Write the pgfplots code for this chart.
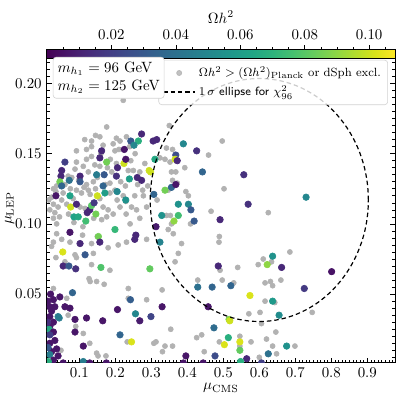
\documentclass[border=0pt]{standalone}
\usepackage{pgfplots}
\pgfplotsset{compat=1.18}

\begin{document}
\begin{tikzpicture}
\begin{axis}[
  name=ax,
  scale only axis, width=233.6pt, height=207.4pt,
  xmin=0.01, xmax=0.977, ymin=0.001, ymax=0.221,
  xlabel={$\mu_{\mathrm{CMS}}$}, ylabel={$\mu_{\mathrm{LEP}}$},
  xlabel style={yshift=3pt},
  ylabel style={at={([xshift=-25pt]rel axis cs:0,0.5)}, anchor=center},
  xtick={0.1,0.2,0.3,0.4,0.5,0.6,0.7,0.8,0.9},
  ytick={0.05,0.10,0.15,0.20},
  minor xtick={0.02,0.03,...,0.97},
  minor ytick={0.005,0.010,...,0.220},
  yticklabel style={/pgf/number format/.cd, fixed, precision=2, fixed zerofill},
  xticklabel style={/pgf/number format/.cd, fixed, precision=1},
  tick align=inside, xtick pos=both, ytick pos=both,
  xticklabel pos=left, yticklabel pos=left,
  major tick length=3.5pt, minor tick length=1.8pt,
  every tick/.style={black, line width=0.4pt},
  axis line style={line width=0.6pt},
  clip marker paths=true,
  colormap name=viridis,
  point meta min=0, point meta max=0.108,
  colorbar horizontal,
  colorbar style={
    at={(parent axis.north west)}, anchor=south west, yshift=5.4pt,
    scale only axis, width=233.6pt, height=6pt,
    xtick={0.02,0.04,0.06,0.08,0.10},
    minor xtick={0.005,0.010,0.015,0.025,0.030,0.035,0.045,0.050,0.055,0.065,0.070,0.075,0.085,0.090,0.095,0.105},
    xtick pos=right, xticklabel pos=right, tick align=outside,
    major tick length=3pt, minor tick length=1.6pt,
    xticklabel style={/pgf/number format/.cd, fixed, precision=2, fixed zerofill},
    xlabel={$\Omega h^2$}, xlabel style={yshift=-2pt},
    axis line style={line width=0.6pt},
  },
  legend cell align=left,
  legend style={at={(1,1)}, anchor=north east, xshift=-4.7pt, yshift=-4pt,
    draw=gray!35, rounded corners=2pt, fill=white, fill opacity=0.8, text opacity=1,
    font=\footnotesize, row sep=0.5pt, inner ysep=2.5pt, inner xsep=2.5pt},
]

% excluded points
\addplot[only marks, mark=*, mark size=1.7pt, draw=gray!60, fill=gray!60,
  legend image code/.code={\fill[gray!60] (0.38cm,0cm) circle (1.7pt);}] table {
x y
0.466 0.109
0.625 0.108
0.342 0.106
0.353 0.106
0.356 0.100
0.409 0.100
0.347 0.096
0.361 0.093
0.384 0.086
0.489 0.091
0.488 0.087
0.375 0.079
0.366 0.073
0.611 0.075
0.685 0.080
0.597 0.071
0.634 0.073
0.540 0.069
0.491 0.067
0.429 0.060
0.497 0.060
0.529 0.058
0.616 0.058
0.631 0.059
0.637 0.056
0.660 0.060
0.330 0.053
0.616 0.045
0.643 0.044
0.602 0.037
0.571 0.036
0.747 0.037
0.606 0.029
0.354 0.025
0.440 0.021
0.426 0.019
0.546 0.020
0.577 0.016
0.620 0.018
0.646 0.023
0.546 0.013
0.489 0.016
0.313 0.016
0.307 0.015
0.338 0.013
0.359 0.013
0.331 0.009
0.447 0.009
0.699 0.013
0.637 0.013
0.648 0.0075
0.600 0.005
0.350 0.170
0.497 0.159
0.342 0.154
0.359 0.153
0.459 0.149
0.324 0.147
0.338 0.146
0.352 0.144
0.393 0.140
0.356 0.137
0.368 0.137
0.359 0.131
0.372 0.129
0.502 0.125
0.396 0.123
0.403 0.120
0.316 0.117
0.347 0.124
0.222 0.188
0.176 0.169
0.145 0.163
0.157 0.162
0.134 0.159
0.203 0.161
0.194 0.157
0.213 0.159
0.231 0.162
0.166 0.156
0.134 0.155
0.199 0.152
0.210 0.153
0.120 0.153
0.092 0.152
0.069 0.134
0.092 0.144
0.111 0.141
0.120 0.146
0.134 0.148
0.203 0.143
0.143 0.142
0.157 0.141
0.125 0.137
0.088 0.139
0.079 0.133
0.190 0.137
0.250 0.138
0.268 0.137
0.185 0.129
0.120 0.128
0.139 0.130
0.037 0.127
0.028 0.125
0.035 0.123
0.055 0.122
0.023 0.119
0.051 0.117
0.092 0.124
0.106 0.122
0.125 0.124
0.157 0.118
0.185 0.122
0.199 0.124
0.222 0.120
0.229 0.116
0.254 0.120
0.276 0.124
0.278 0.120
0.028 0.114
0.041 0.112
0.065 0.114
0.102 0.112
0.116 0.111
0.166 0.112
0.180 0.110
0.194 0.107
0.213 0.112
0.245 0.112
0.259 0.110
0.032 0.108
0.028 0.104
0.037 0.100
0.176 0.105
0.162 0.103
0.268 0.104
0.241 0.100
0.015 0.117
0.018 0.110
0.060 0.128
0.075 0.125
0.083 0.118
0.098 0.131
0.113 0.126
0.130 0.121
0.145 0.125
0.150 0.133
0.172 0.128
0.178 0.140
0.186 0.146
0.215 0.130
0.228 0.127
0.236 0.138
0.243 0.145
0.255 0.150
0.262 0.128
0.282 0.143
0.290 0.127
0.205 0.117
0.140 0.104
0.085 0.101
0.070 0.107
0.110 0.098
0.230 0.107
0.287 0.112
0.045 0.105
0.160 0.150
0.115 0.160
0.240 0.155
0.037 0.093
0.109 0.092
0.134 0.086
0.150 0.091
0.028 0.087
0.023 0.084
0.051 0.089
0.074 0.087
0.231 0.087
0.287 0.089
0.180 0.083
0.208 0.085
0.088 0.078
0.139 0.079
0.035 0.076
0.060 0.073
0.092 0.076
0.134 0.071
0.185 0.067
0.127 0.061
0.130 0.059
0.148 0.059
0.169 0.057
0.028 0.054
0.236 0.054
0.065 0.047
0.236 0.047
0.287 0.046
0.069 0.035
0.090 0.027
0.111 0.022
0.233 0.016
0.129 0.015
0.148 0.008
0.152 0.006
0.174 0.006
0.049 0.010
};
\addlegendentry{$\Omega h^2 > (\Omega h^2)_{\mathrm{Planck}}$ or dSph excl.}

% allowed points, coloured by relic density
\addplot[scatter, only marks, mark=*, mark size=2.2pt, forget plot,
  scatter src=explicit,
  scatter/use mapped color={draw=mapped color, fill=mapped color}]
  table[meta=c] {
x y c
0.375 0.114 0.055
0.403 0.114 0.050
0.569 0.114 0.015
0.329 0.106 0.055
0.375 0.106 0.075
0.363 0.102 0.090
0.410 0.110 0.030
0.419 0.102 0.030
0.313 0.098 0.008
0.324 0.087 0.048
0.491 0.103 0.012
0.637 0.077 0.055
0.622 0.071 0.090
0.662 0.069 0.012
0.486 0.070 0.012
0.801 0.066 0.005
0.429 0.055 0.040
0.469 0.055 0.035
0.521 0.056 0.035
0.725 0.054 0.018
0.574 0.049 0.102
0.637 0.045 0.058
0.330 0.041 0.006
0.458 0.041 0.006
0.655 0.035 0.052
0.516 0.032 0.088
0.518 0.031 0.100
0.474 0.026 0.038
0.514 0.019 0.068
0.503 0.014 0.102
0.546 0.016 0.102
0.546 0.010 0.082
0.676 0.013 0.055
0.625 0.0075 0.040
0.477 0.006 0.025
0.396 0.006 0.006
0.565 0.004 0.012
0.606 0.001 0.020
0.548 0.002 0.068
0.389 0.001 0.006
0.444 0.001 0.006
0.299 0.034 0.022
0.305 0.159 0.012
0.315 0.160 0.012
0.389 0.157 0.050
0.426 0.152 0.015
0.368 0.149 0.025
0.310 0.146 0.065
0.366 0.146 0.100
0.372 0.145 0.012
0.442 0.137 0.035
0.557 0.135 0.015
0.298 0.137 0.100
0.307 0.121 0.035
0.356 0.126 0.035
0.338 0.124 0.085
0.368 0.128 0.006
0.730 0.119 0.050
0.273 0.164 0.012
0.243 0.159 0.030
0.264 0.159 0.068
0.252 0.156 0.050
0.162 0.152 0.012
0.225 0.153 0.006
0.060 0.144 0.020
0.051 0.138 0.012
0.049 0.134 0.012
0.046 0.130 0.085
0.176 0.144 0.085
0.206 0.140 0.012
0.224 0.143 0.100
0.229 0.146 0.006
0.072 0.131 0.040
0.102 0.134 0.012
0.148 0.135 0.045
0.169 0.135 0.030
0.203 0.134 0.015
0.239 0.132 0.060
0.261 0.133 0.012
0.273 0.131 0.012
0.294 0.138 0.100
0.166 0.127 0.035
0.035 0.120 0.006
0.051 0.127 0.035
0.074 0.120 0.062
0.150 0.120 0.100
0.171 0.122 0.060
0.205 0.123 0.050
0.229 0.117 0.055
0.076 0.112 0.100
0.092 0.114 0.012
0.085 0.105 0.062
0.097 0.105 0.065
0.122 0.108 0.012
0.129 0.110 0.012
0.134 0.113 0.080
0.141 0.115 0.018
0.146 0.107 0.085
0.118 0.102 0.075
0.157 0.147 0.012
0.102 0.130 0.030
0.199 0.096 0.072
0.074 0.094 0.006
0.102 0.086 0.012
0.153 0.091 0.085
0.157 0.087 0.012
0.257 0.092 0.012
0.254 0.089 0.012
0.054 0.080 0.102
0.116 0.078 0.030
0.055 0.070 0.012
0.071 0.070 0.030
0.090 0.068 0.015
0.160 0.069 0.078
0.296 0.068 0.082
0.081 0.051 0.035
0.242 0.046 0.032
0.206 0.039 0.006
0.256 0.036 0.050
0.088 0.032 0.006
0.120 0.033 0.006
0.165 0.031 0.006
0.268 0.031 0.008
0.088 0.023 0.006
0.213 0.021 0.035
0.245 0.016 0.102
0.111 0.013 0.006
0.111 0.002 0.045
0.129 0.001 0.006
0.175 0.001 0.006
0.044 0.033 0.045
0.020 0.050 0.006
0.028 0.046 0.006
0.046 0.048 0.006
0.032 0.041 0.006
0.018 0.041 0.006
0.060 0.041 0.006
0.074 0.040 0.006
0.023 0.038 0.006
0.018 0.034 0.006
0.028 0.030 0.006
0.018 0.027 0.006
0.041 0.034 0.045
0.016 0.025 0.065
0.028 0.023 0.006
0.018 0.021 0.020
0.032 0.017 0.006
0.018 0.015 0.006
0.037 0.011 0.006
0.023 0.009 0.006
0.018 0.007 0.045
0.041 0.006 0.006
0.028 0.003 0.006
0.014 0.002 0.068
0.055 0.001 0.006
0.012 0.045 0.006
0.012 0.030 0.015
0.013 0.012 0.030
};

% 1 sigma ellipse
\draw[black, line width=0.8pt, dash pattern=on 3pt off 2pt]
  (axis cs:0.6,0.117) ellipse [x radius=0.303, y radius=0.0865];
\addlegendimage{legend image code/.code={\draw[black, line width=0.8pt, dash pattern=on 3pt off 2pt] (0cm,0cm) -- (0.76cm,0cm);}}
\addlegendentry{$1\,\sigma$ \textsf{ellipse for} $\chi^2_{96}$}
\end{axis}

\node[anchor=north west, draw=gray!35, rounded corners=2pt, fill=white,
  align=left, inner sep=3pt] at ([xshift=4pt,yshift=-2pt]ax.north west)
  {$m_{h_1} = 96$ GeV\\ $m_{h_2} = 125$ GeV};

\pgfresetboundingbox
\path[use as bounding box] ([xshift=-31.5pt,yshift=-24.2pt]ax.south west)
  rectangle ([xshift=2.7pt,yshift=36.2pt]ax.north east);
\end{tikzpicture}
\end{document}
